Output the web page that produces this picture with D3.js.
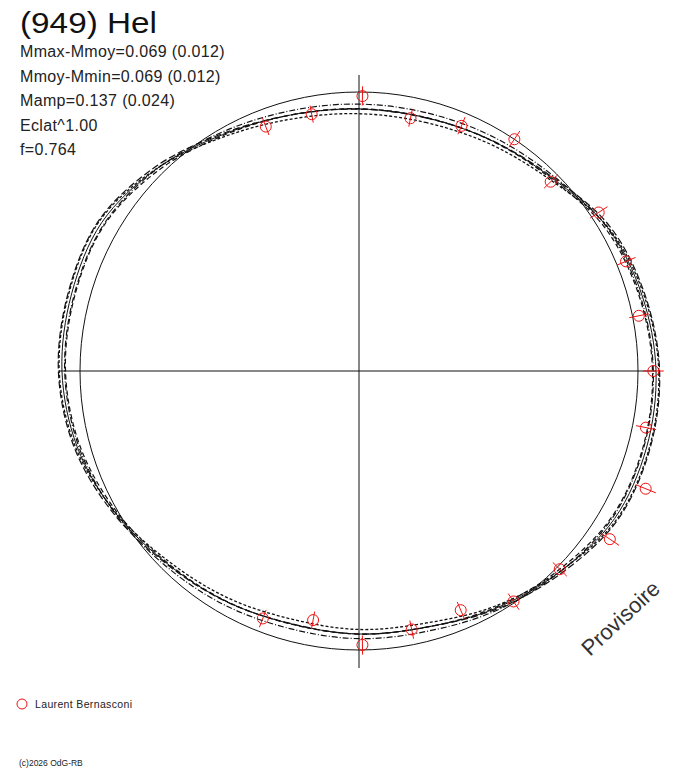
<!DOCTYPE html>
<html>
<head>
<meta charset="utf-8">
<script src="https://cdn.jsdelivr.net/npm/d3@7"></script>
<style>
  body { margin: 0; background: #fff; }
  text { font-family: "Liberation Sans", Arial, sans-serif; }
</style>
</head>
<body>
<div id="chart"></div>
<script>
// observed points : rotation phase (0..1) and magnitude relative to mean
const obsPhase = [0.002, 0.032, 0.063, 0.094, 0.126, 0.157, 0.188, 0.219, 0.250, 0.281, 0.312,
                  0.344, 0.374, 0.406, 0.436, 0.468, 0.498, 0.529, 0.559, 0.942, 0.971];
const obsMag = [0.016, 0.085, 0.053, 0.000, 0.038, -0.032, -0.037, -0.024, -0.058, -0.051, -0.114,
                -0.086, -0.012, 0.006, 0.077, 0.061, 0.020, 0.105, 0.054, 0.070, 0.072];
const obsErr = [0.038, 0.037, 0.038, 0.038, 0.038, 0.039, 0.038, 0.038, 0.038, 0.038, 0.038,
                0.039, 0.038, 0.038, 0.038, 0.038, 0.038, 0.038, 0.038, 0.038, 0.036];

// fitted curves, sampled every 15 degrees of phase
const modelDeg = [0, 15, 30, 45, 60, 75, 90, 105, 120, 135, 150, 165,
                  180, 195, 210, 225, 240, 255, 270, 285, 300, 315, 330, 345];
const fitInner2 = [0.048, 0.048, 0.036, 0.014, -0.029, -0.046, -0.058, -0.060, -0.053, -0.020, 0.011, 0.039,
                   0.045, 0.049, 0.036, 0.017, -0.014, -0.043, -0.058, -0.060, -0.058, -0.026, 0.014, 0.039];
const fitInner1 = [0.067, 0.067, 0.053, 0.028, -0.022, -0.042, -0.055, -0.057, -0.049, -0.011, 0.024, 0.056,
                   0.064, 0.068, 0.053, 0.031, -0.005, -0.038, -0.055, -0.057, -0.055, -0.018, 0.028, 0.056];
const fitMid    = [0.068, 0.068, 0.052, 0.024, -0.031, -0.053, -0.068, -0.070, -0.061, -0.019, 0.020, 0.056,
                   0.064, 0.069, 0.052, 0.028, -0.012, -0.049, -0.068, -0.070, -0.068, -0.027, 0.024, 0.056];
const fitOuter1 = [0.069, 0.069, 0.051, 0.020, -0.040, -0.064, -0.081, -0.083, -0.073, -0.027, 0.016, 0.056,
                   0.064, 0.070, 0.051, 0.025, -0.019, -0.060, -0.081, -0.083, -0.081, -0.036, 0.020, 0.056];
const fitOuter2 = [0.088, 0.088, 0.068, 0.034, -0.033, -0.060, -0.078, -0.080, -0.069, -0.018, 0.029, 0.073,
                   0.083, 0.089, 0.068, 0.039, -0.010, -0.055, -0.078, -0.080, -0.078, -0.028, 0.034, 0.073];

const title = "(949) Hel";
const infoLines = ["Mmax-Mmoy=0.069 (0.012)", "Mmoy-Mmin=0.069 (0.012)", "Mamp=0.137 (0.024)",
                   "Eclat^1.00", "f=0.764"];
const observers = ["Laurent Bernasconi"];

const width = 688, height = 768;
const cx = 359, cy = 371;

const svg = d3.select('#chart').append('svg')
  .attr('width', width)
  .attr('height', height)
  .style('background', '#fff');

// radius proportional to brightness^1 (Eclat^1.00), mean brightness on the circle
const rScale = d3.scaleLinear().domain([0, 1]).range([0, 279]);
const radius = m => rScale(Math.pow(10, -0.4 * m));
const angle = d3.scaleLinear().domain([0, 1]).range([0, 2 * Math.PI]);
const angleDeg = d3.scaleLinear().domain([0, 360]).range([0, 2 * Math.PI]);

const plot = svg.append('g').attr('transform', `translate(${cx},${cy})`);

// axes
const axisLen = 297;
plot.append('line').attr('x1', -axisLen - 2).attr('x2', axisLen).attr('y1', 0).attr('y2', 0)
  .attr('stroke', '#111').attr('stroke-width', 1);
plot.append('line').attr('y1', -axisLen + 1).attr('y2', axisLen).attr('x1', 0).attr('x2', 0)
  .attr('stroke', '#111').attr('stroke-width', 1);

// mean brightness circle
plot.append('circle').attr('r', radius(0))
  .attr('fill', 'none').attr('stroke', '#111').attr('stroke-width', 1);

// fitted curves
const fits = [
  { mags: fitInner2, dash: '6,2,1,2', w: 1.2 },
  { mags: fitInner1, dash: '5,3', w: 1.2 },
  { mags: fitMid, dash: null, w: 1 },
  { mags: fitOuter1, dash: '7,3', w: 1.2 },
  { mags: fitOuter2, dash: '3,2', w: 1.3 }
];
const radial = d3.lineRadial()
  .angle((d, i) => angleDeg(modelDeg[i]))
  .radius(d => radius(d))
  .curve(d3.curveCardinalClosed);

plot.append('g').selectAll('path')
  .data(fits)
  .enter().append('path')
    .attr('d', f => radial(f.mags))
    .attr('fill', 'none')
    .attr('stroke', '#111')
    .attr('stroke-width', f => f.w)
    .attr('stroke-dasharray', f => f.dash);

// observations
const red = '#ee1111';
const obs = obsPhase.map((p, i) => ({ p, m: obsMag[i], e: obsErr[i] }));
const pts = plot.append('g').selectAll('g')
  .data(obs)
  .enter().append('g');
pts.append('line')
  .attr('x1', d => d3.pointRadial(angle(d.p), radius(d.m + d.e))[0])
  .attr('y1', d => d3.pointRadial(angle(d.p), radius(d.m + d.e))[1])
  .attr('x2', d => d3.pointRadial(angle(d.p), radius(d.m - d.e))[0])
  .attr('y2', d => d3.pointRadial(angle(d.p), radius(d.m - d.e))[1])
  .attr('stroke', red).attr('stroke-width', 1);
pts.append('circle')
  .attr('cx', d => d3.pointRadial(angle(d.p), radius(d.m))[0])
  .attr('cy', d => d3.pointRadial(angle(d.p), radius(d.m))[1])
  .attr('r', 5.5)
  .attr('fill', 'none').attr('stroke', red).attr('stroke-width', 1);

// header texts
svg.append('text').attr('x', 20).attr('y', 33)
  .attr('font-size', 29).attr('fill', '#111')
  .attr('textLength', 137).attr('lengthAdjust', 'spacingAndGlyphs')
  .text(title);
svg.append('g').selectAll('text')
  .data(infoLines)
  .enter().append('text')
    .attr('x', 20)
    .attr('y', (d, i) => 57 + i * 24.6)
    .attr('font-size', 16)
    .attr('letter-spacing', 0.35)
    .attr('fill', '#222')
    .text(d => d);

// legend
const leg = svg.append('g').selectAll('g')
  .data(observers)
  .enter().append('g')
    .attr('transform', (d, i) => `translate(22,${704 + i * 16})`);
leg.append('circle').attr('r', 5).attr('fill', 'none').attr('stroke', red).attr('stroke-width', 1);
leg.append('text').attr('x', 13).attr('y', 4).attr('font-size', 10.5).attr('fill', '#222')
  .attr('letter-spacing', 0.35).text(d => d);

svg.append('text').attr('x', 19).attr('y', 766)
  .attr('font-size', 8.5).attr('fill', '#222').text('(c)2026 OdG-RB');

svg.append('text')
  .attr('transform', 'translate(590,657) rotate(-43)')
  .attr('font-size', 22).attr('fill', '#333')
  .text('Provisoire');
</script>
</body>
</html>
